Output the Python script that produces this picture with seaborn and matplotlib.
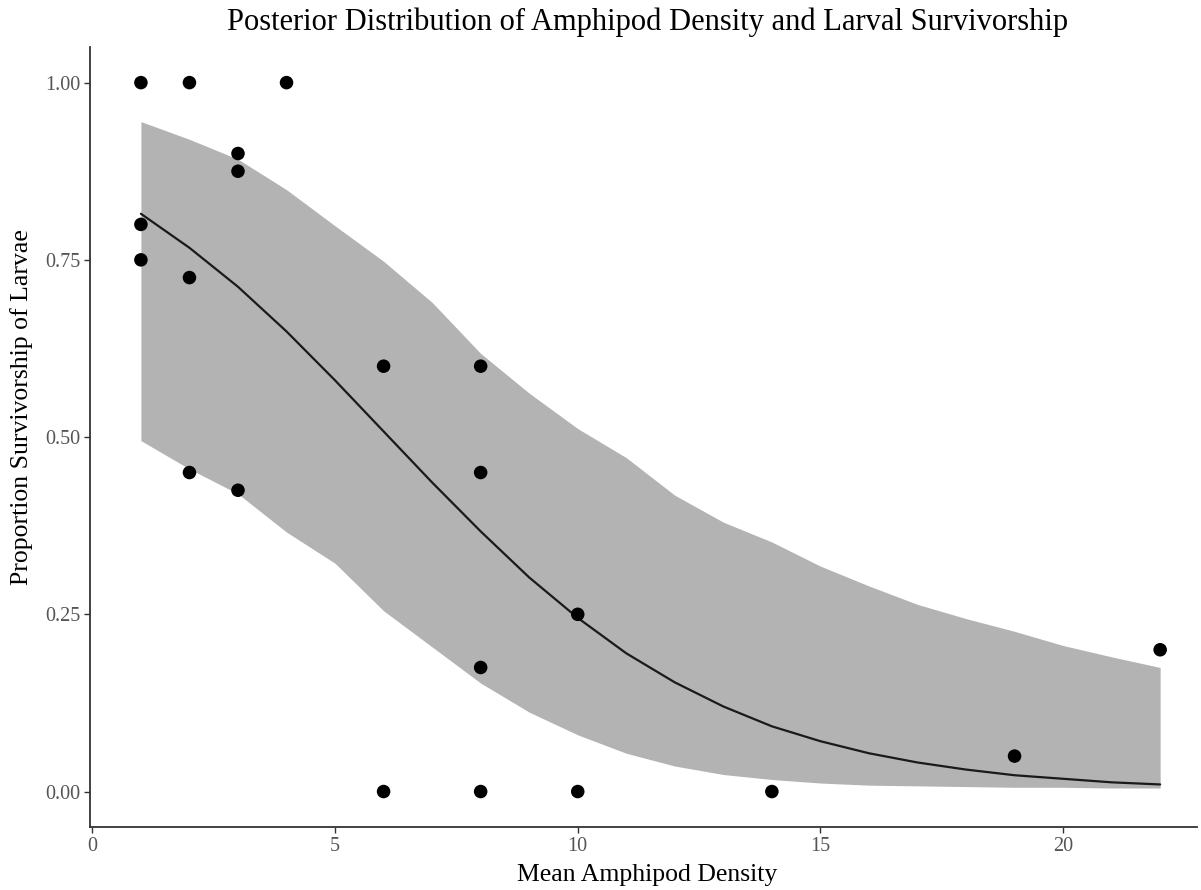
import numpy as np
import pandas as pd
import matplotlib
matplotlib.use("Agg")
import matplotlib.pyplot as plt
import seaborn as sns

# Observed data
obs_density = [1, 1, 1, 2, 2, 2, 3, 3, 3, 4, 6, 6, 8, 8, 8, 8, 10, 10, 14, 19, 22]
obs_survival = [1.00, 0.80, 0.75, 1.00, 0.725, 0.45, 0.90, 0.875, 0.425, 1.00,
                0.60, 0.00, 0.60, 0.45, 0.175, 0.00, 0.25, 0.00, 0.00, 0.05, 0.20]

# Posterior mean curve and credible band
fit_density = list(range(1, 23))
fit_mean = [0.815, 0.767, 0.712, 0.649, 0.580, 0.508, 0.436, 0.367, 0.302, 0.245,
            0.195, 0.154, 0.120, 0.092, 0.071, 0.054, 0.041, 0.031, 0.023, 0.018,
            0.013, 0.010]
fit_upper = [0.945, 0.920, 0.892, 0.849, 0.798, 0.748, 0.690, 0.618, 0.562, 0.512,
             0.471, 0.418, 0.380, 0.352, 0.318, 0.290, 0.264, 0.244, 0.226, 0.206,
             0.190, 0.175]
fit_lower = [0.495, 0.455, 0.420, 0.366, 0.322, 0.255, 0.204, 0.153, 0.112, 0.080,
             0.054, 0.036, 0.024, 0.017, 0.012, 0.009, 0.008, 0.007, 0.006, 0.006,
             0.005, 0.005]

x_ticks = [0, 5, 10, 15, 20]
y_ticks = [0.00, 0.25, 0.50, 0.75, 1.00]
y_tick_labels = ["0.00", "0.25", "0.50", "0.75", "1.00"]

title = "Posterior Distribution of Amphipod Density and Larval Survivorship"
x_label = "Mean Amphipod Density"
y_label = "Proportion Survivorship of Larvae"

obs = pd.DataFrame({"density": obs_density, "survival": obs_survival})
fit = pd.DataFrame({"density": fit_density, "mean": fit_mean,
                    "upper": fit_upper, "lower": fit_lower})

sns.set_theme(style="ticks")
plt.rcParams["font.family"] = ["Liberation Serif", "DejaVu Serif"]

fig = plt.figure(figsize=(12.01, 8.90), dpi=100)
ax = fig.add_axes([0.0749, 0.0708, 0.9218, 0.8762])

ax.fill_between(fit["density"], fit["lower"], fit["upper"],
                color="#b3b3b3", linewidth=0, zorder=1)
sns.lineplot(data=fit, x="density", y="mean", ax=ax, color="#1a1a1a",
             linewidth=1.6, zorder=2)
sns.scatterplot(data=obs, x="density", y="survival", ax=ax, color="black",
                s=95, edgecolor="none", zorder=3)

ax.set_xlim(-0.05, 22.76)
ax.set_ylim(-0.05, 1.05)
ax.set_xticks(x_ticks)
ax.set_xticklabels([str(t) for t in x_ticks])
ax.set_yticks(y_ticks)
ax.set_yticklabels(y_tick_labels)

for s in ["top", "right"]:
    ax.spines[s].set_visible(False)
for s in ["left", "bottom"]:
    ax.spines[s].set_color("#333333")
    ax.spines[s].set_linewidth(1.3)

ax.tick_params(axis="both", direction="out", length=4, width=1.0,
               color="#333333", labelcolor="#555555", labelsize=14.5, pad=3)

ax.set_xlabel(x_label, fontsize=18.5, color="black")
ax.set_ylabel(y_label, fontsize=18.5, color="black")
ax.xaxis.set_label_coords(0.5036, -0.0615)
ax.xaxis.label.set_va("center")
ax.yaxis.set_label_coords(-0.0614, 0.538)
ax.yaxis.label.set_va("center")

fig.text(648 / 1201, 1 - 22 / 890, title, fontsize=22, color="black",
         ha="center", va="center")

fig.savefig("out.png", dpi=100, facecolor="white")
